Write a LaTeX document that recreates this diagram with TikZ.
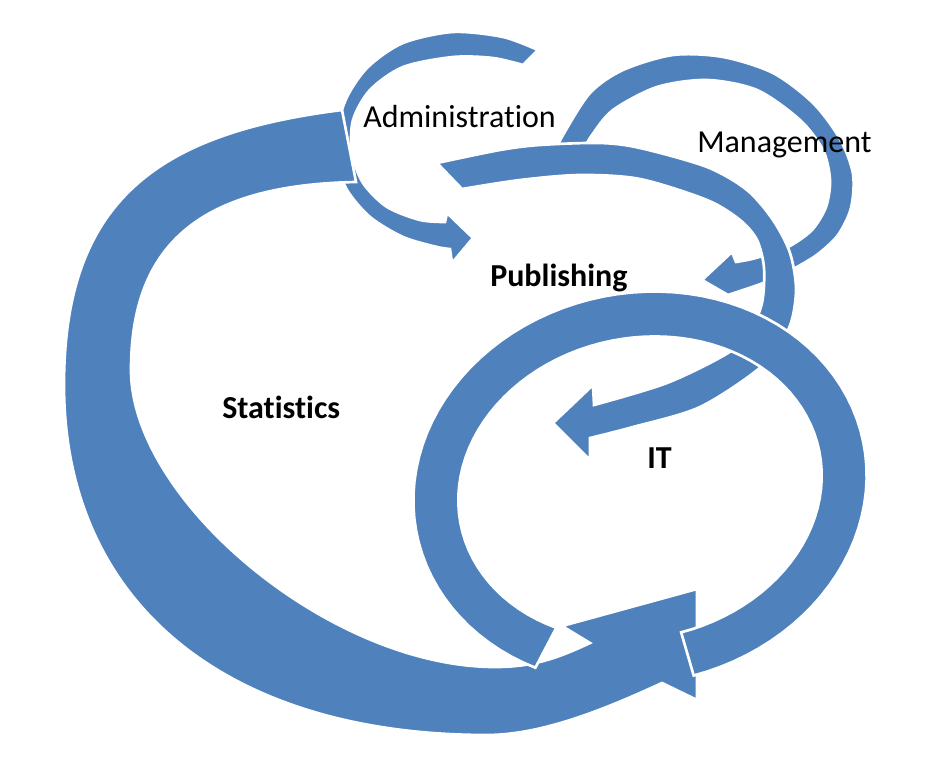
\documentclass[tikz,border=0pt]{standalone}
\usepackage{fontspec}
\setmainfont{Carlito}[Ligatures=NoCommon]
\usepackage{tikz}
\usetikzlibrary{positioning}
\definecolor{ringblue}{RGB}{79,129,189}
\newcommand{\nolig}{\kern0pt }

\begin{document}
\begin{tikzpicture}[
x=0.75pt,
y=-0.75pt,
ring/.style={
  fill=ringblue,
  draw=white,
  line width=2pt,
  line join=miter
  },
word/.style={
  inner sep=0pt,
  anchor=base west,
  font=\fontsize{24}{28}\selectfont
  },
strong/.style={
  word,
  font=\fontsize{24}{28}\selectfont\bfseries
  }
]
\useasboundingbox (0,0) rectangle (944,777);
\path[ring] plot[smooth] coordinates {(538,50) (503,37) (453,32) (403,43) (368,67) (347,97) (337,130) (338,163) (347,190) (370,217) (403,237) (437,247) (450,249)}
  -- (452,263) -- (473,238) -- (447,213)
  -- plot[smooth] coordinates {(445,222) (420,220) (387,207) (363,183) (352,153) (353,120) (370,90) (403,67) (453,57) (493,58) (523,65)} -- cycle;
\path[ring] (342,110) .. controls (158,133) and (64,200) .. (64,385)
  .. controls (64,602) and (225,735) .. (487,735)
  .. controls (545,735) and (612,706) .. (662,683)
  -- (697,700) -- (697,589) -- (562,626) -- (590,643)
  .. controls (554,660) and (530,667) .. (495,667)
  .. controls (330,667) and (131,500) .. (131,370)
  .. controls (131,242) and (203,185) .. (356,182) -- cycle;
\path[ring] plot[smooth] coordinates {(555,152) (563,135) (590,93) (623,70) (673,55) (723,57) (773,73) (813,103) (840,139) (853,174) (851,208) (838,235) (818,254) (797,267) (776,278) (755,286)}
  -- (728,295) -- (702,280) -- (732,252)
  -- plot[smooth] coordinates {(736,262) (752,259) (772,253) (790,246) (812,230) (826,207) (830,180) (823,150) (800,120) (757,90) (707,80) (657,87) (613,110) (592,135) (582,152)} -- cycle;
\path[ring] plot[smooth] coordinates {(437,163) (500,150) (540,145) (600,143) (640,148) (707,167) (747,190) (773,220) (790,253) (796,290) (789,328) (762,366) (700,407) (633,427) (590,438)}
  -- (590,460) -- (553,423) -- (593,385)
  -- plot[smooth] coordinates {(594,405) (667,383) (728,353) (750,331) (762,303) (764,268) (757,240) (740,220) (707,200) (640,179) (580,175) (520,180) (462,189)} -- cycle;
\path[ring] plot[domain=127.8:446.6, samples=90] ({640+223.0*cos(\x)+40.54*sin(\x)}, {488-47.4*cos(\x)+190.7*sin(\x)})
  -- plot[domain=127.3:446.8, samples=90] ({640+179.0*cos(574.1-\x)+31.19*sin(574.1-\x)}, {488-38.05*cos(574.1-\x)+146.7*sin(574.1-\x)}) -- cycle;
\node[word] (admin) at (363,128) {Administrat\nolig ion};
\node[word] (mgmt) at (697,153) {Management};
\node[strong] (pub) at (490,286) {Publishing};
\node[strong] (stats) at (222,418) {Stat\nolig ist\nolig ics};
\node[strong] (it) at (647,468) {IT};
\end{tikzpicture}
\end{document}
